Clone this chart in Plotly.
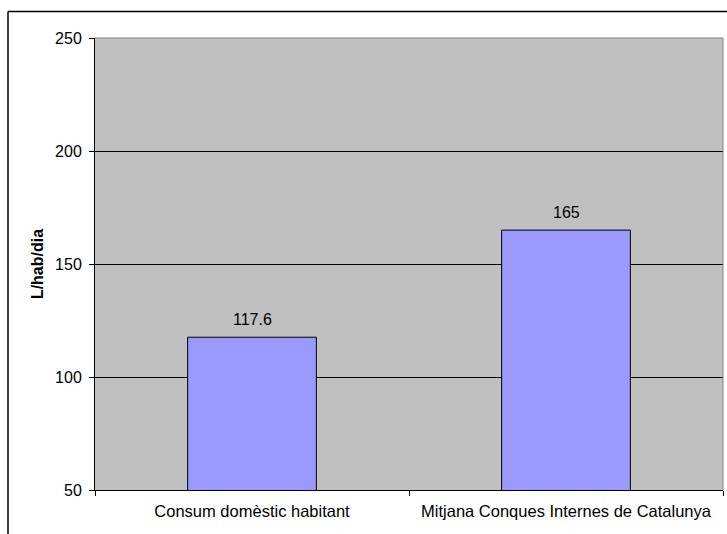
import plotly.graph_objects as go

categories = ["Consum domèstic habitant", "Mitjana Conques Internes de Catalunya"]
values = [117.6, 165]
value_labels = ["117.6", "165"]
y_tickvals = [50, 100, 150, 200, 250]
y_title = "L/hab/dia"

FONT = "Liberation Sans, Arial, sans-serif"

fig = go.Figure()
fig.add_trace(go.Bar(
    x=categories, y=values,
    marker=dict(color="#9999FF", line=dict(color="black", width=1)),
    hoverinfo="skip",
))

for c, v, t in zip(categories, values, value_labels):
    fig.add_annotation(x=c, y=v, text=t, showarrow=False, yanchor="bottom",
                       yshift=7, font=dict(family=FONT, size=16, color="black"))

L, R, T, B = 95, 4, 38, 44
W, H = 727, 534
pw, ph = W - L - R, H - T - B
# outer frame (left and top edges visible)
fx = (8 - L) / pw
fy = (H - B - 11.5) / ph
fig.add_shape(type="line", xref="paper", yref="paper", x0=fx, x1=fx, y0=-0.3, y1=fy,
              line=dict(color="black", width=1.5), layer="above")
fig.add_shape(type="line", xref="paper", yref="paper", x0=fx, x1=1.3, y0=fy, y1=fy,
              line=dict(color="black", width=1.5), layer="above")
# plot area border top/right gray
fig.add_shape(type="line", xref="paper", yref="paper", x0=0, x1=1, y0=1, y1=1,
              line=dict(color="#808080", width=1), layer="above")
fig.add_shape(type="line", xref="paper", yref="paper", x0=1, x1=1, y0=0, y1=1,
              line=dict(color="#808080", width=1), layer="above")

fig.update_layout(
    width=W, height=H,
    margin=dict(l=L, r=R, t=T, b=B, pad=0),
    paper_bgcolor="white", plot_bgcolor="#C0C0C0",
    font=dict(family=FONT, size=16, color="black"),
    bargap=0.59, showlegend=False,
    xaxis=dict(type="category", showline=True, linecolor="black", linewidth=1,
               ticks="outside", tickson="boundaries", ticklen=5, tickcolor="black",
               showgrid=False, tickfont=dict(size=16.5), ticklabelstandoff=6,
               automargin=False),
    yaxis=dict(range=[50, 250], tickvals=y_tickvals, showline=True, linecolor="black",
               linewidth=1, ticks="outside", ticklen=5, tickcolor="black",
               showgrid=True, gridcolor="black", gridwidth=1, zeroline=False,
               ticklabelstandoff=4, tickfont=dict(size=16), automargin=False,
               title=dict(text="<b>" + y_title + "</b>", font=dict(size=16), standoff=7)),
)

fig.write_html("out.html", config={"displayModeBar": False},
               post_script="document.body.style.margin='0';")
